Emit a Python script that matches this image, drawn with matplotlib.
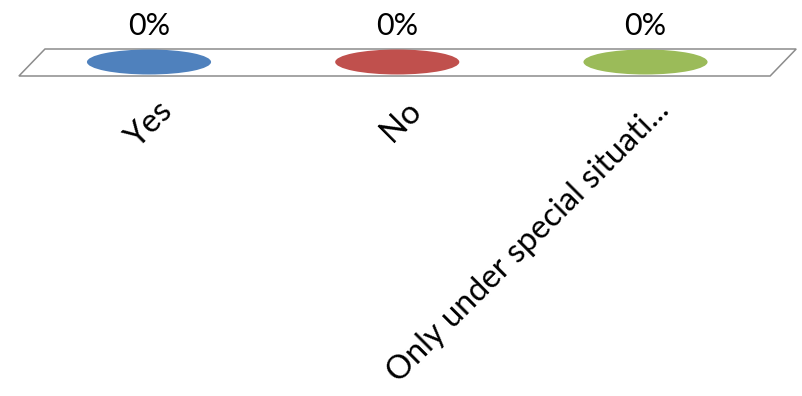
import matplotlib.pyplot as plt
from matplotlib.patches import Ellipse, Polygon

categories = ['Yes', 'No', 'Only under special situati...']
values = [0.0, 0.0, 0.0]
colors = ['#4F81BD', '#C0504D', '#9BBB59']

plt.rcParams['font.family'] = ['Lato', 'DejaVu Sans']

fig = plt.figure(figsize=(8.02, 3.96), dpi=100)
ax = fig.add_axes([0, 0, 1, 1])
ax.set_xlim(-0.6002, 2.6304)
ax.set_ylim(-334, 62)
ax.axis('off')

# floor of the 3d plot
depth_x, depth_y = 0.105, 27
x0, x1 = -0.524, 2.502
floor = Polygon([(x0, -14), (x1, -14), (x1 + depth_x, -14 + depth_y),
                 (x0 + depth_x, -14 + depth_y)],
                closed=True, facecolor='white', edgecolor='#8c8c8c', lw=1.1)
ax.add_patch(floor)

scale = 300  # height of 100% in axis units
for i, (v, c) in enumerate(zip(values, colors)):
    top = v * scale
    ax.add_patch(Ellipse((i, top), 0.5, 25, facecolor=c, edgecolor='none'))
    ax.text(i, top + 36, f'{v:.0%}', ha='center', va='center', fontsize=22)
    ax.text(i + 0.035, -33, categories[i], rotation=45, rotation_mode='anchor',
            ha='right', va='top', fontsize=23.5)

fig.savefig('out.png', dpi=100)
